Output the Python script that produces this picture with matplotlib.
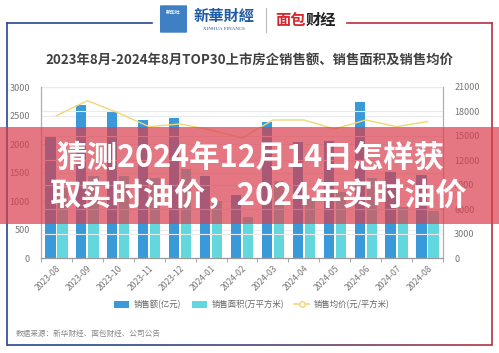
import numpy as np
import matplotlib
matplotlib.use('Agg')
import matplotlib.pyplot as plt
from matplotlib.lines import Line2D
from matplotlib.patches import Rectangle, FancyBboxPatch, Patch
from matplotlib.collections import LineCollection

plt.rcParams['font.family'] = ['Noto Sans CJK SC', 'DejaVu Sans']

# data
months = ['2023-08', '2023-09', '2023-10', '2023-11', '2023-12', '2024-01', '2024-02',
          '2024-03', '2024-04', '2024-05', '2024-06', '2024-07', '2024-08']
sales = [2120, 2690, 2580, 2420, 2450, 1440, 1105, 2385, 2040, 2045, 2740, 1514, 1456]
area = [1230, 1440, 1440, 1400, 1560, 1000, 720, 1350, 1050, 1150, 1400, 900, 820]
price = [17480, 19320, 17810, 16130, 16460, 15720, 14740, 16950, 16950, 15840, 16950, 16130, 16760]

W, H = 499, 353
def fx(x):
    return x / W
def fy(y):
    return 1 - y / H

fig = plt.figure(figsize=(W / 100, H / 100), dpi=100)
fig.patch.set_facecolor('white')

ax = fig.add_axes([fx(41), fy(258), fx(443) - fx(41), fy(87) - fy(258)])
ax2 = ax.twinx()

x = np.arange(len(months))
blue = '#3a9ad9'
cyan = '#62d8de'
ax.bar(x - 0.195, sales, width=0.33, color=blue, zorder=3)
ax.bar(x + 0.195, area, width=0.33, color=cyan, zorder=3)
ax.set_ylim(0, 3000)
ax.set_yticks(np.arange(0, 3001, 500))
ax.set_xlim(-0.5, len(months) - 0.5)
ax.set_xticks(x)
ax.set_xticklabels(months, rotation=45, ha='right', va='top', rotation_mode='anchor')
ax.set_xticks(np.arange(-0.5, len(months)), minor=True)
ax.tick_params(axis='x', which='major', length=0, pad=4, labelsize=6.2, labelcolor='#777777')
ax.tick_params(axis='x', which='minor', length=3, color='#999999')
ax.tick_params(axis='y', length=0, labelsize=6.5, labelcolor='#777777', pad=8)
ax.grid(axis='y', color='#e8eaef', lw=0.8, zorder=0)
ax.set_axisbelow(True)

ax2.plot(x, price, color='#f2d675', lw=1.0, zorder=4)
ax2.set_ylim(0, 21000)
ax2.set_yticks(np.arange(0, 21001, 3000))
ax2.tick_params(axis='y', length=0, labelsize=6.5, labelcolor='#777777', pad=8)
ax2.grid(axis='y', color='#e8eaef', lw=0.8, zorder=0)

for a in (ax, ax2):
    a.spines['top'].set_visible(False)
    a.spines['left'].set_color('#b0b0b0')
    a.spines['right'].set_color('#b0b0b0')
    a.spines['bottom'].set_color('#999999')
    a.patch.set_alpha(0)

# legend
handles = [Patch(facecolor=blue, edgecolor='none'),
           Patch(facecolor=cyan, edgecolor='none'),
           Line2D([0], [0], color='#f2d675', lw=1.2, marker='o', markersize=4,
                  markerfacecolor='white', markeredgecolor='#f2d675')]
fig.legend(handles, ['销售额(亿元)', '销售面积(万平方米)', '销售均价(元/平方米)'],
           loc='center', bbox_to_anchor=(fx(252), fy(305)), ncol=3, frameon=False,
           fontsize=6, labelcolor='#666666', handlelength=1.8, handleheight=0.9,
           columnspacing=1.2, handletextpad=0.6)

fig.text(fx(16), fy(334), '数据来源：新华财经、面包财经、公司公告', fontsize=5.5,
         color='#888888', va='center', ha='left')

# title
fig.text(fx(249), fy(60), '2023年8月-2024年8月TOP30上市房企销售额、销售面积及销售均价',
         fontsize=9.6, fontweight='bold', color='#404040', ha='center', va='center')

# frame lines
navy = '#24488c'
red = '#b8323f'
fig.add_artist(Line2D([fx(7), fx(152)], [fy(23), fy(23)], color=navy, lw=1.2))
fig.add_artist(Line2D([fx(347), fx(492)], [fy(23), fy(23)], color=red, lw=1.2))
fig.add_artist(Line2D([fx(7), fx(7)], [fy(23), fy(345)], color=navy, lw=1.2))
fig.add_artist(Line2D([fx(492), fx(492)], [fy(23), fy(345)], color=red, lw=1.2))
xs = np.linspace(7, 492, 60)
segs = [[(fx(xs[i]), fy(345)), (fx(xs[i + 1]), fy(345))] for i in range(len(xs) - 1)]
c0 = np.array(matplotlib.colors.to_rgb(navy))
c1 = np.array(matplotlib.colors.to_rgb(red))
cols = [c0 + (c1 - c0) * t ** 2 for t in np.linspace(0, 1, len(segs))]
fig.add_artist(LineCollection(segs, colors=cols, lw=1.2, transform=fig.transFigure))

# logos
fig.patches.append(FancyBboxPatch((fx(161), fy(32)), fx(186) - fx(161), fy(6) - fy(32),
                                  boxstyle='round,pad=0.002', transform=fig.transFigure,
                                  facecolor='#3f7fc4', edgecolor='none', figure=fig))
fig.text(fx(173.5), fy(13), '新华社', fontsize=3.5, color='white', ha='center', va='center',
         fontweight='bold')
fig.text(fx(224), fy(16), '新華財經', fontsize=11, color='#1f5aa6', ha='center', va='center',
         fontweight='bold', style='italic')
fig.text(fx(224), fy(29), 'XINHUA FINANCE', fontsize=3.6, color='#1f5aa6', ha='center',
         va='center', family='Liberation Serif')
fig.add_artist(Line2D([fx(266), fx(266)], [fy(8), fy(32)], color='#bbbbbb', lw=0.8))
fig.text(fx(275), fy(20), '面包', fontsize=11, color='#d7282f', ha='left', va='center',
         fontweight='bold')
fig.text(fx(306), fy(20), '财经', fontsize=11, color='#222222', ha='left', va='center',
         fontweight='bold')

# red overlay banner
fig.patches.append(Rectangle((0, fy(224)), 1, fy(127) - fy(224), transform=fig.transFigure,
                             facecolor='#d93e4d', alpha=0.7, edgecolor='none', figure=fig,
                             zorder=5))
fig.text(fx(250), fy(158), '猜测2024年12月14日怎样获', fontsize=22, fontweight='bold',
         color='white', ha='center', va='center', zorder=6)
fig.text(fx(50), fy(197), '取实时油价，2024年实时油价', fontsize=22.5, fontweight='bold',
         color='white', ha='left', va='center', zorder=6)

fig.savefig('out.png', dpi=100)
